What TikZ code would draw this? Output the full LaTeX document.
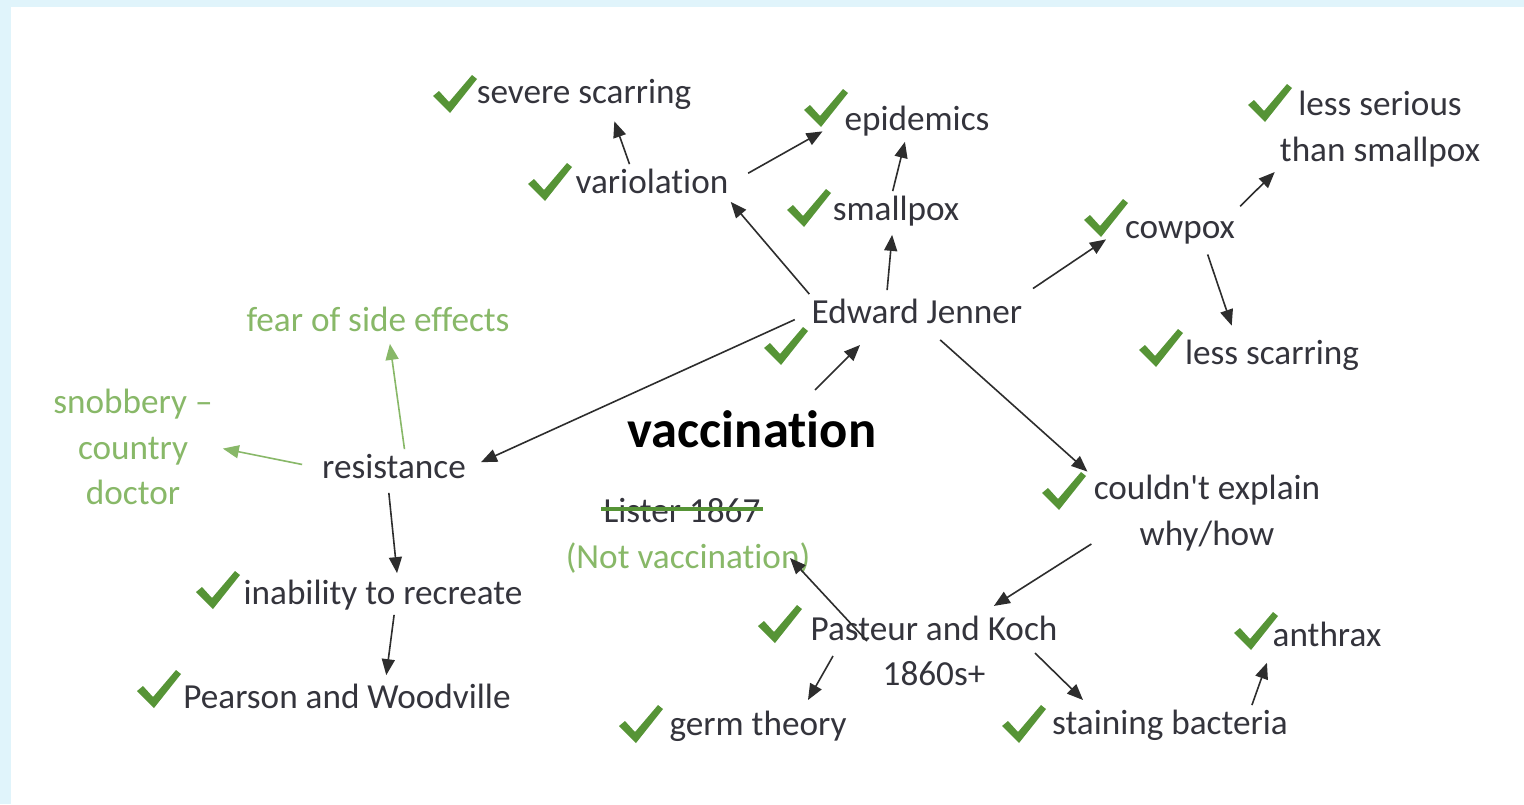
\documentclass[tikz,border=0pt]{standalone}
\usepackage{fontspec}
\setmainfont{Carlito}[Ligatures={TeX,NoCommon}]
\usetikzlibrary{arrows.meta}

\definecolor{inkgray}{RGB}{52,52,60}
\definecolor{arrowgray}{RGB}{45,45,45}
\definecolor{tickgreen}{RGB}{86,148,54}
\definecolor{softgreen}{RGB}{136,184,104}
\definecolor{bgblue}{RGB}{224,244,251}

\begin{document}
\begin{tikzpicture}[x=0.5pt, y=-0.5pt,
  every node/.style={font=\fontsize{17.6}{22.8}\selectfont, text=inkgray, inner sep=1pt},
  item/.style={text height=13.5pt, text depth=3pt},
  multi/.style={align=center},
  soft/.style={text=softgreen},
  title/.style={font=\fontsize{26.3}{30}\selectfont\bfseries, text=black, text height=20pt, text depth=3pt},
  chk/.style={minimum width=23pt, minimum height=20pt, inner sep=0pt,
    path picture={\fill[tickgreen, shift={(path picture bounding box.center)}]
      (-22,1) -- (-16,-4) -- (-6,7) -- (17,-20) -- (22,-16) -- (-5,18) -- cycle;}},
  link/.style={draw=arrowgray, line width=0.8pt, -{Triangle[length=8pt, width=6.5pt]}},
  softlink/.style={link, draw=softgreen}]

% page and frame
\fill[bgblue] (0,0) rectangle (1524,804);
\fill[white] (11,7) rectangle (1524,804);

% Jenner and what he built on
\node[item] (severe) at (584,93) {severe scarring};
\node[item] (epid) at (917,120) {epidemics};
\node[item] (vario) at (652,183) {variolation};
\node[item] (small) at (896,210) {smallpox};
\node[item] (cowpox) at (1180,228) {cowpox};
\node[multi] (lessser) at (1380,129) {less serious\\than smallpox};
\node[item] (lessscar) at (1272,354) {less scarring};
\node[item] (jenner) at (917,313) {Edward Jenner};
\node[title] (vacc) at (752,430) {vaccination};

% resistance
\node[item,soft] (fear) at (378,321) {fear of side effects};
\node[multi,soft] (snob) at (133,447) {snobbery –\\country\\doctor};
\node[item] (resist) at (394,468) {resistance};
\node[item] (inab) at (383,594) {inability to recreate};
\node[item] (pearson) at (347,698) {Pearson and Woodville};

% later work
\node[item] (lister) at (682,512) {Lister 1867};
\node[item,soft] (notvacc) at (688,558) {(Not vaccination)};
\node[multi] (couldnt) at (1207,513) {couldn\textquotesingle t explain\\why/how};
\node[multi] (pasteur) at (934,651) {Pasteur and Koch\\1860s+};
\node[item] (anthrax) at (1327,636) {anthrax};
\node[item] (germ) at (758,725) {germ theory};
\node[item] (stain) at (1170,724) {staining bacteria};

% ticks
\node[chk] (cSevere) at (455,95) {};
\node[chk] (cEpid) at (826,109) {};
\node[chk] (cVario) at (550,183) {};
\node[chk] (cSmall) at (809,209) {};
\node[chk] (cCowpox) at (1106,219) {};
\node[chk] (cLessSer) at (1270,104) {};
\node[chk] (cLessScar) at (1161,349) {};
\node[chk] (cJenner) at (786,347) {};
\node[chk] (cCouldnt) at (1064,492) {};
\node[chk] (cInab) at (218,591) {};
\node[chk] (cPearson) at (159,690) {};
\node[chk] (cPasteur) at (780,625) {};
\node[chk] (cAnthrax) at (1256,632) {};
\node[chk] (cGerm) at (641,725) {};
\node[chk] (cStain) at (1024,725) {};

\draw[tickgreen, line width=2pt] ([yshift=1.5pt]lister.west) -- ([yshift=1.5pt]lister.east);

\draw[link] (jenner.north west) -- (vario.south east);
\draw[link, shorten <=10pt, shorten >=2pt] (vario.east) -- (cEpid.south);
\draw[link, shorten >=5pt] (vario.140) -- (severe.-35);
\draw[link, shorten <=2pt, shorten >=3pt] (jenner.148) -- (small.-100);
\draw[link, shorten >=1.5pt] (small.100) -- (epid.-121);
\draw[link, shorten <=5pt] (jenner.north east) -- (cCowpox.south);
\draw[link, shorten <=2pt, shorten >=2pt] (cowpox.north east) -- (lessser.south west);
\draw[link, shorten <=4pt, shorten >=5pt] (cowpox.-37) -- (lessscar.153);
\draw[link, shorten <=6pt] (jenner.-53) -- (cCouldnt.north east);
\draw[link, shorten <=8pt, shorten >=7pt] (jenner.west) -- (resist.east);
\draw[link] ([shift={(63,-40)}]vacc.center) -- ([shift={(-57,32)}]jenner.center);

\draw[softlink, shorten >=2pt] (resist.61) -- (fear.-59);
\draw[softlink, shorten <=9pt, shorten >=4pt] (resist.west) -- (snob.east);
\draw[link, shorten <=3pt, shorten >=1pt] (resist.-107) -- (inab.53);
\draw[link, shorten <=1pt, shorten >=2pt] (inab.-59) -- (pearson.26);

\draw[link, shorten >=7pt] (couldnt.195) -- (pasteur.38);
\draw[link] ([shift={(-67,-10)}]pasteur.center) -- ([shift={(102,0)}]notvacc.center);
\draw[link] ([shift={(-101,5)}]pasteur.center) -- ([shift={(50,-25)}]germ.center);
\draw[link] ([shift={(101,2)}]pasteur.center) -- ([shift={(-87,-24)}]stain.center);
\draw[link, shorten >=5pt] (stain.13) -- (anthrax.-163);

\end{tikzpicture}
\end{document}
